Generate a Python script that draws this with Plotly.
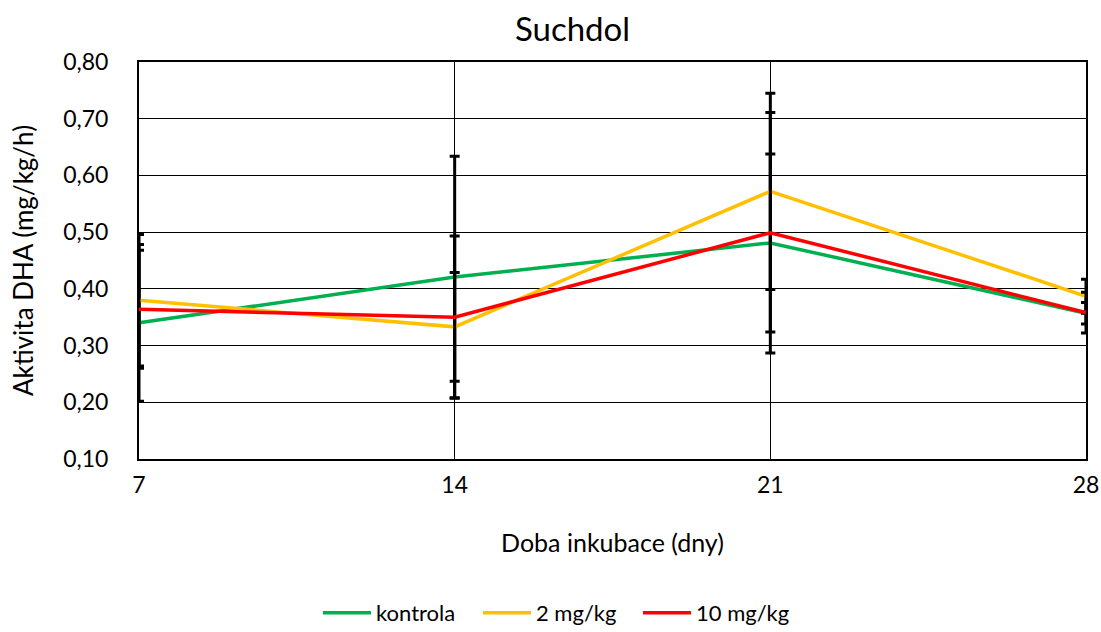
import plotly.graph_objects as go

days = [7, 14, 21, 28]
tick_labels = ["7", "14", "21", "28"]

kontrola = [0.340, 0.421, 0.481, 0.357]
kontrola_err = [0.138, 0.213, 0.157, 0.019]

mg2 = [0.380, 0.333, 0.572, 0.387]
mg2_err = [0.116, 0.096, 0.173, 0.030]

mg10 = [0.364, 0.350, 0.499, 0.358]
mg10_err = [0.104, 0.143, 0.212, 0.036]

series = [
    ("kontrola", kontrola, kontrola_err, "#00B050"),
    ("2 mg/kg", mg2, mg2_err, "#FFC000"),
    ("10 mg/kg", mg10, mg10_err, "#FF0000"),
]

FONT = "Lato"

fig = go.Figure()
for name, vals, errs, color in series:
    fig.add_trace(go.Scatter(
        x=days, y=vals, name=name, mode="lines",
        line=dict(color=color, width=3.5),
        error_y=dict(type="data", array=errs, visible=True,
                     color="black", thickness=3, width=5),
    ))

fig.update_layout(
    width=1101, height=632,
    margin=dict(l=139, r=15, t=62, b=173, autoexpand=False),
    paper_bgcolor="white", plot_bgcolor="white",
    separators=", ",
    font=dict(family=FONT, size=22, color="black"),
    title=dict(text="Suchdol", x=0.52, xanchor="center", y=0.953, yanchor="middle",
               font=dict(family=FONT, size=33, color="black")),
    legend=dict(orientation="h", x=0.189, xanchor="left", y=-0.388, yanchor="middle",
                font=dict(family=FONT, size=22), itemwidth=48, traceorder="normal",
                entrywidth=97, entrywidthmode="pixels"),
    xaxis=dict(range=[7, 28], tickvals=days, ticktext=tick_labels,
               showgrid=True, gridcolor="black", gridwidth=1,
               showline=True, linecolor="black", linewidth=2, mirror=True,
               ticks="", zeroline=False, ticklabelstandoff=4, automargin=False,
               tickfont=dict(family=FONT, size=23),
               title=dict(text="Doba inkubace (dny)", standoff=38,
                          font=dict(family=FONT, size=25))),
    yaxis=dict(range=[0.10, 0.80], dtick=0.10, tick0=0.10, tickformat=".2f",
               showgrid=True, gridcolor="black", gridwidth=1,
               showline=True, linecolor="black", linewidth=2, mirror=True,
               ticks="", zeroline=False, ticklabelstandoff=24, automargin=False,
               tickfont=dict(family=FONT, size=23),
               title=dict(text="Aktivita DHA (mg/kg/h)", standoff=22,
                          font=dict(family=FONT, size=26))),
)

fig.write_html("out.html")
